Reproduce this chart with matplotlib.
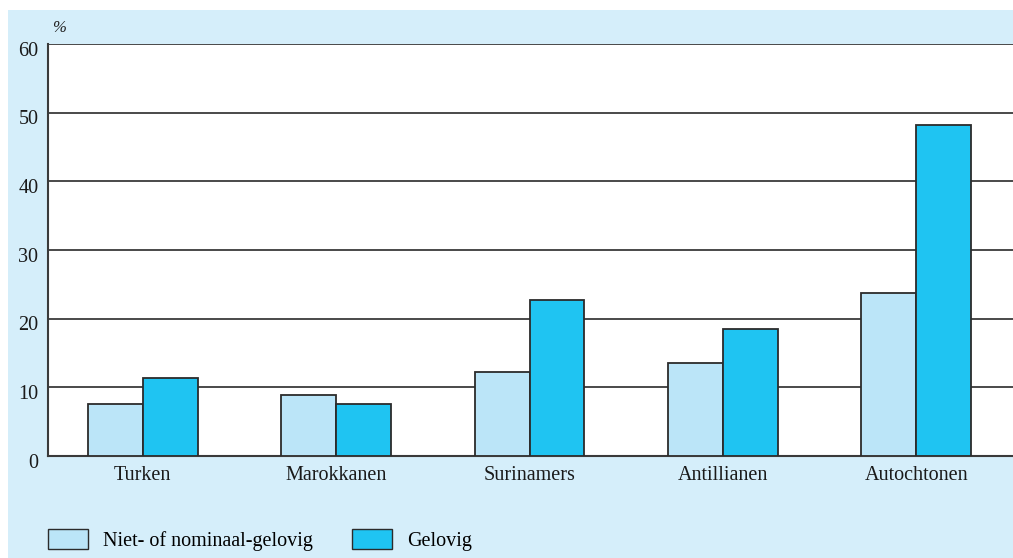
import numpy as np
import matplotlib
matplotlib.use("Agg")
import matplotlib.pyplot as plt
import matplotlib.transforms as mtransforms
from matplotlib.patches import Rectangle, Patch

plt.rcParams['font.family'] = ['Liberation Serif', 'DejaVu Serif']

groups = ["Turken", "Marokkanen", "Surinamers", "Antillianen", "Autochtonen"]
niet_gelovig = [7.6, 8.9, 12.3, 13.5, 23.8]
gelovig = [11.4, 7.6, 22.7, 18.5, 48.2]
series_names = ["Niet- of nominaal-gelovig", "Gelovig"]
yticks = [0, 10, 20, 30, 40, 50, 60]

bg = '#d5eefa'
c_light = '#bbe5f8'
c_dark = '#1fc4f2'
edge = '#2b2b2b'

fig = plt.figure(figsize=(10.13, 5.58), dpi=100)
# light blue panel behind the chart (white strip on top and left)
fig.patches.append(Rectangle((8 / 1013, 0), 1, 1 - 10 / 558, transform=fig.transFigure,
                             facecolor=bg, edgecolor='none', zorder=-10))

ax = fig.add_axes([48 / 1013, 1 - 456 / 558, 1 - 48 / 1013, (456 - 44) / 558])
ax.set_facecolor('white')

x = np.arange(len(groups))
width = 0.284
ax.bar(x - width / 2, niet_gelovig, width, color=c_light, edgecolor=edge, linewidth=1.3, zorder=3)
ax.bar(x + width / 2, gelovig, width, color=c_dark, edgecolor=edge, linewidth=1.3, zorder=3)

ax.set_xlim(-0.49, 4.5)
ax.set_ylim(0, 60)
ax.set_yticks(yticks)
ax.set_xticks(x)
ax.set_xticklabels(groups)
ax.tick_params(length=0, labelsize=14.5, colors='#1a1a1a', pad=7)
ax.tick_params(axis='y', pad=7)
# y labels sit a little below their gridline, like the original
shift = mtransforms.ScaledTranslation(0, -4.5 / 100, fig.dpi_scale_trans)
for lbl in ax.get_yticklabels():
    lbl.set_transform(lbl.get_transform() + shift)
for v in yticks[1:]:
    ax.axhline(v, color='#3a3a3a', linewidth=1.3, zorder=1)

for s in ['top', 'right']:
    ax.spines[s].set_visible(False)
for s in ['left', 'bottom']:
    ax.spines[s].set_color('#3a3a3a')
    ax.spines[s].set_linewidth(1.5)

ax.text(0.004, 1.02, '%', transform=ax.transAxes, fontsize=12, style='italic',
        color='#222222', va='bottom', ha='left')

handles = [Patch(facecolor=c_light, edgecolor=edge, linewidth=1.0),
           Patch(facecolor=c_dark, edgecolor=edge, linewidth=1.0)]
fig.legend(handles, series_names, loc='lower left', bbox_to_anchor=(48 / 1013, 7 / 558),
           ncol=2, frameon=False, fontsize=14.5, handlelength=2.0, handleheight=1.15,
           handletextpad=0.75, columnspacing=1.9, borderpad=0, borderaxespad=0)

fig.savefig('out.png', dpi=100)
